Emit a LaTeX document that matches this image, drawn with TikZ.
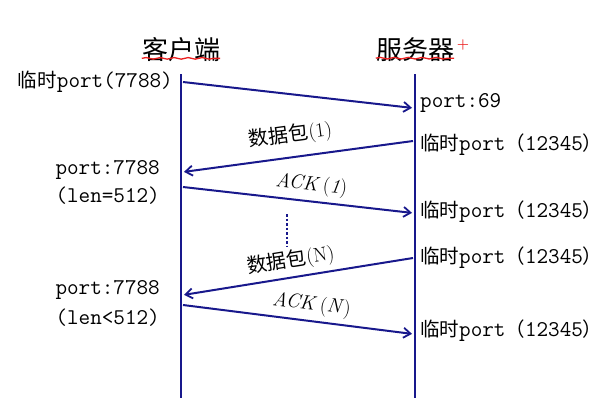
\documentclass[tikz,border=0pt]{standalone}
\usepackage{fontspec}
\newfontfamily\cjk{Noto Sans CJK SC}
\usetikzlibrary{arrows.meta,decorations.pathmorphing}
\definecolor{navy}{RGB}{24,24,140}
\definecolor{spellred}{RGB}{235,30,30}
\newcommand{\pt}[1]{{\fontsize{22.5}{24}\selectfont\ttfamily #1}}
\begin{document}
\begin{tikzpicture}
[
x=1pt,y=-1pt,
lifeline/.style={draw=navy,line width=1.6pt},
msg/.style={draw=navy,line width=2pt,-{Straight Barb[length=7pt,width=10pt,line width=1.8pt]},shorten >=1pt},
side/.style={font=\fontsize{19.5}{22}\selectfont,inner sep=1pt},
title/.style={font=\cjk\fontsize{26}{28}\selectfont,inner sep=0pt},
tag/.style={font=\fontsize{20}{22}\selectfont,inner sep=2pt,sloped,above=#1},
tag/.default=3pt,
squiggle/.style={draw=spellred,line width=1.3pt,decorate,decoration={snake,amplitude=0.8pt,segment length=14pt}},
]
\useasboundingbox (0,0) rectangle (616,402);
%Place the nodes
\node[title] (client) at (181,50) {客户端};
\node[title] (server) at (415,50) {服务器};
\node[text=spellred,font=\bfseries\fontsize{14}{14}\selectfont,inner sep=0pt] (plus) at (463,45) {+};
\coordinate (cT) at (181,74);
\coordinate (cB) at (181,398);
\coordinate (sT) at (415,74);
\coordinate (sB) at (415,398);
\foreach \n/\cy/\sy in {1/82/108,2/172/141,3/187/213,4/295/258,5/305/334}{
  \coordinate (c\n) at (183,\cy);
  \coordinate (s\n) at (413,\sy);
}
\coordinate (dotA) at (287,214);
\coordinate (dotB) at (287,246);
%Labels beside the lifelines
\node[side,anchor=east] (cl1) at (174,82) {{\cjk 临时}\pt{port(7788)}};
\node[side,anchor=east] (cl2) at (161,170) {\pt{port:7788}};
\node[side,anchor=east] (cl3) at (161,196) {\pt{(len=512)}};
\node[side,anchor=east] (cl4) at (161,290) {\pt{port:7788}};
\node[side,anchor=east] (cl5) at (161,318) {\pt{(len<512)}};
\node[side,anchor=west] (sl1) at (419,103) {\pt{port:69}};
\node[side,anchor=west] (sl2) at (419,145) {{\cjk 临时}\pt{port}{\cjk （}\pt{12345}{\cjk ）}};
\node[side,anchor=west] (sl3) at (419,212) {{\cjk 临时}\pt{port}{\cjk （}\pt{12345}{\cjk ）}};
\node[side,anchor=west] (sl4) at (419,258) {{\cjk 临时}\pt{port}{\cjk （}\pt{12345}{\cjk ）}};
\node[side,anchor=west] (sl5) at (419,331) {{\cjk 临时}\pt{port}{\cjk （}\pt{12345}{\cjk ）}};
%Draw the connections
\draw[lifeline] (cT) -- (cB);
\draw[lifeline] (sT) -- (sB);
\draw[msg] (c1) -- (s1);
\draw[msg] (s2) -- node[tag=8pt,pos=0.52] {{\cjk 数据包}(1)} (c2);
\draw[msg] (c3) -- node[tag,pos=0.55] {\textit{ACK}\,(\textit{1})} (s3);
\draw[navy,line width=2.5pt,dotted] (dotA) -- (dotB);
\draw[msg] (s4) -- node[tag,pos=0.52] {{\cjk 数据包}(N)} (c4);
\draw[msg] (c5) -- node[tag,pos=0.55] {\textit{ACK}\,(\textit{N})} (s5);
%Spell-check marks
\draw[squiggle] ([yshift=4pt]client.south west) -- ([yshift=4pt]client.south east);
\draw[squiggle] ([yshift=4pt]server.south west) -- ([yshift=4pt]server.south east);
\end{tikzpicture}
\end{document}
